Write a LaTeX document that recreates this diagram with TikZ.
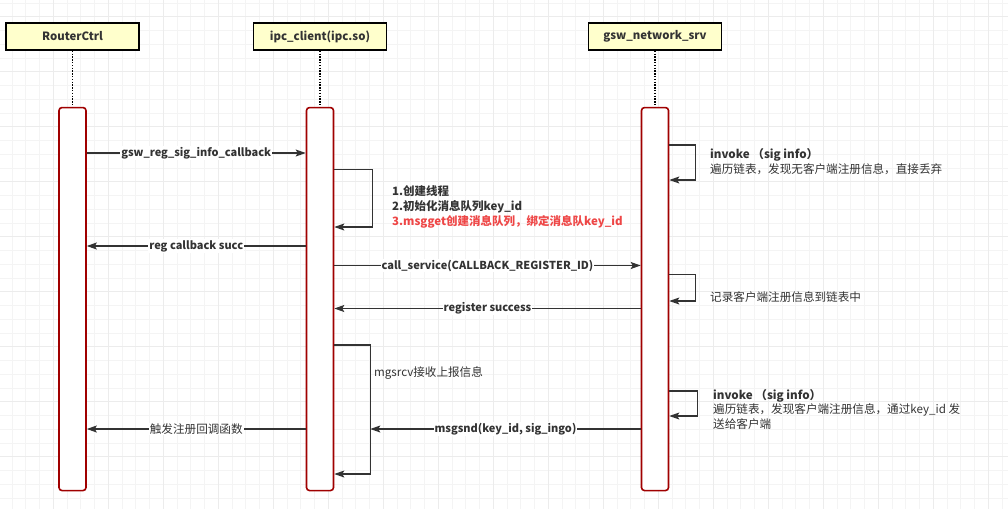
\documentclass[tikz,border=0pt]{standalone}
\usepackage{fontspec}
\setmainfont{Noto Sans CJK SC}
\usetikzlibrary{positioning,arrows.meta,calc}

\definecolor{hdrfill}{HTML}{FFFFCC}
\definecolor{barred}{HTML}{A00000}
\definecolor{ink}{HTML}{333333}
\definecolor{notered}{HTML}{EE4646}
\definecolor{gridminor}{HTML}{F4F4F4}
\definecolor{gridmajor}{HTML}{ECECEC}

\tikzset{
  actor/.style={draw=black, line width=1.5pt, fill=hdrfill, minimum width=133pt,
    minimum height=27pt, inner sep=0pt, text=ink,
    font=\bfseries\fontsize{11.4}{13}\selectfont},
  actbar/.style={draw=barred, line width=1.6pt, fill=white, rounded corners=3pt,
    minimum width=27pt, minimum height=383pt, inner sep=0pt},
  lifeline/.style={line width=1.4pt, dash pattern=on 1.4pt off 1.4pt},
  msg/.style={draw=ink, line width=1.1pt,
    -{Stealth[length=10pt,width=7pt,inset=2pt]}},
  msglbl/.style={fill=white, inner sep=1pt, text=ink,
    font=\bfseries\fontsize{11}{13}\selectfont},
  note/.style={anchor=west, align=left, inner sep=0pt, text=ink,
    font=\fontsize{11.6}{15}\selectfont},
}

\begin{document}
\begin{tikzpicture}[x=1pt,y=-1pt]
   \useasboundingbox (0,0) rectangle (1008,509);

   % paper grid
   \foreach \k in {0,...,72}
      \draw[gridminor, line width=0.8pt] ({12+13.75*\k},0) -- ++(0,509);
   \foreach \k in {0,...,36}
      \draw[gridminor, line width=0.8pt] (0,{3+13.75*\k}) -- ++(1008,0);
   \foreach \k in {0,...,18}
      \draw[gridmajor, line width=1.2pt] ({-1.75+55*\k},0) -- ++(0,509);
   \foreach \k in {0,...,9}
      \draw[gridmajor, line width=1.2pt] (0,{16.75+55*\k}) -- ++(1008,0);

   % participants
   \node[actor] (rc)  at (72.5,36.5) {RouterCtrl};
   \node[actor] (ipc) at (320,36.5)  {ipc\_client(ipc.so)};
   \node[actor] (gsw) at (655,36.5)  {gsw\_network\_srv};

   \node[actbar, below=56pt of rc]  (rcA)  {};
   \node[actbar, below=56pt of ipc] (ipcA) {};
   \node[actbar, below=56pt of gsw] (gswA) {};

   \draw[lifeline] (rc)  -- (rcA);
   \draw[lifeline] (ipc) -- (ipcA);
   \draw[lifeline] (gsw) -- (gswA);

   % message rows
   \coordinate (m1) at (0,153);
   \coordinate (m2) at (0,246);
   \coordinate (m3) at (0,265.5);
   \coordinate (m4) at (0,308.5);
   \coordinate (m5) at (0,429);
   \coordinate (n1a) at (0,169.5);
   \coordinate (n1b) at (0,227);
   \coordinate (n2a) at (0,345);
   \coordinate (n2b) at (0,474);
   \coordinate (g1a) at (0,145);
   \coordinate (g1b) at (0,180);
   \coordinate (g2a) at (0,274.5);
   \coordinate (g2b) at (0,301);
   \coordinate (g3a) at (0,391);
   \coordinate (g3b) at (0,416);

   % register callback
   \draw[msg] (rcA.east |- m1) -- node[msglbl] {gsw\_reg\_sig\_info\_callback}
      (ipcA.west |- m1);
   \draw[msg] (ipcA.east |- n1a) -- ++(38,0) |- (ipcA.east |- n1b);
   \node[note, font=\bfseries\fontsize{11.5}{15}\selectfont] (n1) at (392,207)
      {1.创建线程\\2.初始化消息队列key\_id\\
       \textcolor{notered}{3.msgget创建消息队列，绑定消息队key\_id}};
   \draw[msg] (ipcA.west |- m2) -- node[msglbl] {reg callback succ}
      (rcA.east |- m2);

   % register at server
   \draw[msg] (ipcA.east |- m3) -- node[msglbl] {call\_service(CALLBACK\_REGISTER\_ID)}
      (gswA.west |- m3);
   \draw[msg] (gswA.west |- m4) -- node[msglbl] {register success}
      (ipcA.east |- m4);

   % server side
   \draw[msg] (gswA.east |- g1a) -- ++(26,0) |- (gswA.east |- g1b);
   \node[note] (g1) at (710,162)
      {\textbf{invoke （sig info）}\\遍历链表，发现无客户端注册信息，直接丢弃};
   \draw[msg] (gswA.east |- g2a) -- ++(26,0) |- (gswA.east |- g2b);
   \node[note] (g2) at (710,297) {记录客户端注册信息到链表中};
   \draw[msg] (gswA.east |- g3a) -- ++(28,0) |- (gswA.east |- g3b);
   \node[note, font=\fontsize{11.6}{14.5}\selectfont] (g3) at (713,409)
      {\textbf{invoke （sig info）}\\遍历链表，发现客户端注册信息，通过key\_id 发\\送给客户端};

   % delivery
   \draw[msg] (ipcA.east |- n2a) -- ++(36,0) coordinate (n2c) |- (ipcA.east |- n2b);
   \node[note] (n2) at (374,373) {mgsrcv接收上报信息};
   \draw[msg] (gswA.west |- m5) -- node[msglbl] {msgsnd(key\_id, sig\_ingo)}
      (n2c |- m5);
   \draw[msg] (ipcA.west |- m5) -- node[msglbl, font=\fontsize{11.6}{13}\selectfont]
      {触发注册回调函数} (rcA.east |- m5);

\end{tikzpicture}
\end{document}
